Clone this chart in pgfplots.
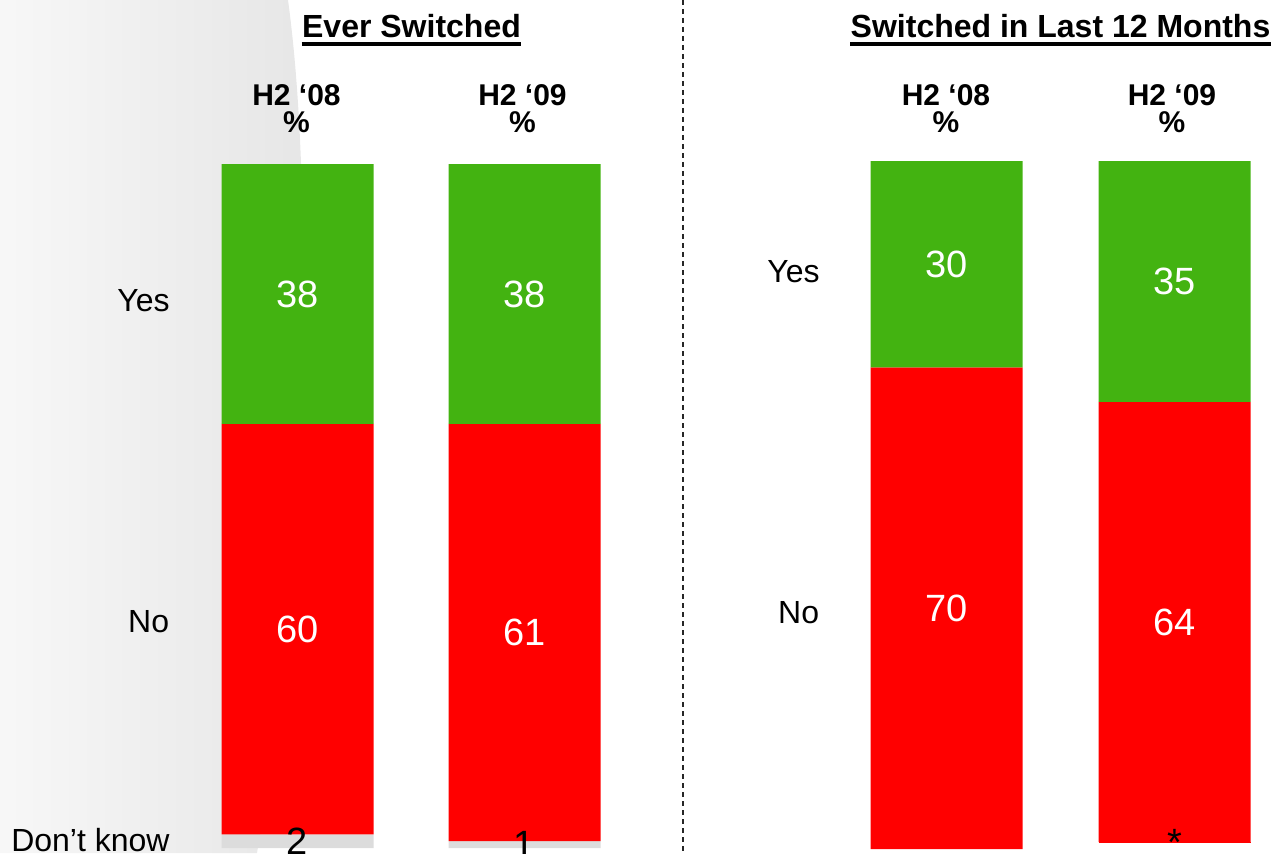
\documentclass[border=0pt]{standalone}
\usepackage{fontspec}
\setmainfont{Liberation Sans}
\usepackage{pgfplots}
\pgfplotsset{compat=1.18}
\definecolor{barGreen}{RGB}{67,179,17}
\definecolor{barRed}{RGB}{255,0,0}
\definecolor{barGray}{RGB}{220,220,220}

\pgfplotsset{
  panel/.style={
    scale only axis,
    anchor=south west,
    y dir=reverse,
    ybar stacked,
    bar width=152,
    axis lines=none,
    clip=false,
    ymin=0,
    xtick=\empty, ytick=\empty,
    point meta=explicit symbolic,
    nodes near coords,
    every node near coord/.append style={anchor=center, inner sep=0pt,
      font=\fontsize{19}{19}\selectfont},
  },
}

\begin{document}
\begin{tikzpicture}
\useasboundingbox (0,0) rectangle (636pt,426.5pt);
\clip (0,0) rectangle (636pt,426.5pt);

% background decoration
\begin{scope}[x=0.5pt,y=-0.5pt,yshift=426.5pt]
\shade[left color=black!3, right color=black!10]
  (0,0) -- (288,0) .. controls (318,220) and (300,600) .. (257,853) -- (0,853) -- cycle;
\draw[dash pattern=on 2.4pt off 2.1pt, line width=0.9pt, black!85] (683,0) -- (683,853);
\end{scope}

% Left panel: Ever Switched
\begin{axis}[panel, at={(90pt,0pt)}, width=230pt, height=344.5pt,
  xmin=180, xmax=640, ymax=100.73]
\addplot[fill=barGreen, draw=none, every node near coord/.append style={text=white}]
  coordinates {(297.5,38)[38] (524.5,38)[38]};
\addplot[fill=barRed, draw=none, every node near coord/.append style={text=white}]
  coordinates {(297.5,60)[60] (524.5,61)[61]};
\addplot[fill=barGray, draw=none, every node near coord/.append style={text=black}]
  coordinates {(297.5,2)[2] (524.5,1)[1]};
\end{axis}

% Right panel: Switched in Last 12 Months
\begin{axis}[panel, at={(345pt,0pt)}, width=291pt, height=346pt,
  xmin=690, xmax=1272, ymax=100.58]
\addplot[fill=barGreen, draw=none, every node near coord/.append style={text=white}]
  coordinates {(946.5,30)[30] (1174.5,35)[35]};
\addplot[fill=barRed, draw=none, every node near coord/.append style={text=white}]
  coordinates {(946.5,70)[70] (1174.5,64)[64]};
\addplot[fill=barRed, draw=none, every node near coord/.append style={text=black}]
  coordinates {(946.5,0)[{}] (1174.5,0.02)[*]};
\end{axis}

% texts
\begin{scope}[x=0.5pt,y=-0.5pt,yshift=426.5pt]
\node[anchor=base, inner sep=0pt, font=\bfseries\fontsize{16}{16}\selectfont] (t1) at (411.5,38) {Ever Switched};
\draw[line width=1.7pt] ([yshift=-3.1pt]t1.base west) -- ([yshift=-3.1pt]t1.base east);
\node[anchor=base, inner sep=0pt, font=\bfseries\fontsize{16}{16}\selectfont] (t2) at (1060.5,38) {Switched in Last 12 Months};
\draw[line width=1.7pt] ([yshift=-3.1pt]t2.base west) -- ([yshift=-3.1pt]t2.base east);

\foreach \cx/\lab in {296.5/08, 522.5/09, 946/08, 1172/09}{
  \node[anchor=base, inner sep=0pt, font=\bfseries\fontsize{15}{15}\selectfont] at (\cx,106) {H2 ‘\lab};
  \node[anchor=base, inner sep=0pt, font=\bfseries\fontsize{15}{15}\selectfont] at (\cx,133) {\%};
}

\begin{scope}[every node/.style={anchor=base east, inner sep=0pt, font=\fontsize{16}{16}\selectfont}]
\node at (170,311) {Yes};
\node at (169.5,632) {No};
\node at (170,851) {Don’t know};
\node at (820,282) {Yes};
\node at (819.5,623) {No};
\end{scope}
\end{scope}
\end{tikzpicture}
\end{document}
